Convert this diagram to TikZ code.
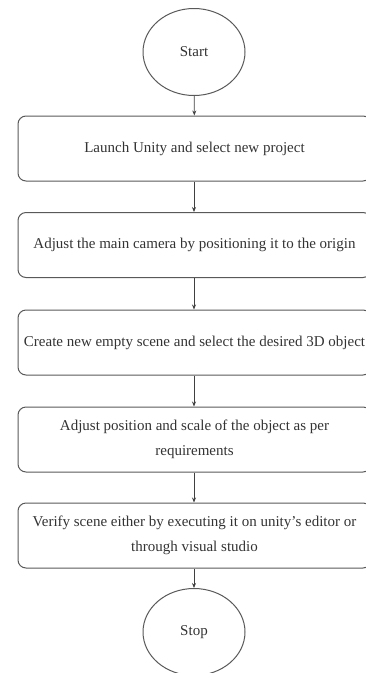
\documentclass[tikz,border=0pt]{standalone}
\usepackage{fontspec}
\setmainfont{Liberation Serif}
\usetikzlibrary{shapes.geometric,arrows.meta}
\begin{document}
\begin{tikzpicture}[x=1pt,y=-1pt,
  term/.style={ellipse,draw=black!65,line width=1pt,minimum width=102pt,minimum height=87pt,inner sep=0pt,text=black!80,font=\fontsize{15}{25}\selectfont},
  stepbox/.style={rectangle,rounded corners=8pt,draw=black!65,line width=1pt,minimum width=353pt,minimum height=65pt,inner sep=0pt,align=center,text=black!80,font=\fontsize{15}{25}\selectfont},
  flow/.style={draw=black!75,line width=0.8pt,-{Stealth[length=5pt,width=4pt]}}]
\useasboundingbox (0,0) rectangle (365,673);
\node[term] (start) at (194,52) {Start};
\node[stepbox] (b1) at (194.5,148.5) {Launch Unity and select new project};
\node[stepbox] (b2) at (194.5,245) {Adjust the main camera by positioning it to the origin};
\node[stepbox] (b3) at (194.5,342.5) {Create new empty scene and select the desired 3D object};
\node[stepbox] (b4) at (194.5,439.5) {Adjust position and scale of the object as per\\requirements};
\node[stepbox] (b5) at (194.5,535.5) {Verify scene either by executing it on unity's editor or\\through visual studio};
\node[term] (stop) at (194,632) {Stop};
\draw[flow] (start) -- (b1);
\draw[flow] (b1.south -| start) -- (b2.north -| start);
\draw[flow] (b2.south -| start) -- (b3.north -| start);
\draw[flow] (b3.south -| start) -- (b4.north -| start);
\draw[flow] (b4.south -| start) -- (b5.north -| start);
\draw[flow] (b5.south -| start) -- (stop);
\end{tikzpicture}
\end{document}
